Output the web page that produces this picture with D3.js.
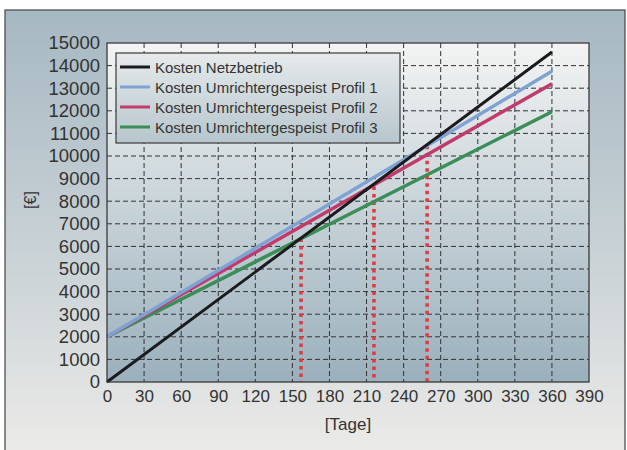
<!DOCTYPE html>
<html><head><meta charset="utf-8">
<script src="https://cdn.jsdelivr.net/npm/d3@7"></script>
<style>body{margin:0;background:#fff}svg{display:block}text{font-family:"Liberation Sans",Arial,sans-serif}</style>
</head><body>
<script>
const days = [0, 360];
const netz = [0, 14600];
const profil1 = [2000, 13750];
const profil2 = [2000, 13200];
const profil3 = [2000, 11960];
const seriesNames = ["Kosten Netzbetrieb","Kosten Umrichtergespeist Profil 1","Kosten Umrichtergespeist Profil 2","Kosten Umrichtergespeist Profil 3"];
const seriesColors = ["#1b1b1d","#7fa2d4","#c23a6b","#3b8e57"];
const breakDays = [157, 216, 259];
const breakTops = [6350, 8650, 10450];
const xTicks = d3.range(0, 391, 30);
const yTicks = d3.range(0, 15001, 1000);

const W = 627, H = 450;
const svg = d3.select("body").append("svg").attr("width", W).attr("height", H);
const defs = svg.append("defs");
const g1 = defs.append("linearGradient").attr("id","outer").attr("x1",0).attr("y1",0).attr("x2",0).attr("y2",1);
g1.append("stop").attr("offset","0%").attr("stop-color","#a6b8c2");
g1.append("stop").attr("offset","55%").attr("stop-color","#c9d2d6");
g1.append("stop").attr("offset","100%").attr("stop-color","#ecebe8");
const g2 = defs.append("linearGradient").attr("id","plot").attr("x1",0).attr("y1",0).attr("x2",0).attr("y2",1);
g2.append("stop").attr("offset","0%").attr("stop-color","#f3f4f3");
g2.append("stop").attr("offset","100%").attr("stop-color","#9ab0bc");
const g3 = defs.append("linearGradient").attr("id","leg").attr("x1",0).attr("y1",0).attr("x2",0).attr("y2",1);
g3.append("stop").attr("offset","0%").attr("stop-color","#e6eaeb");
g3.append("stop").attr("offset","100%").attr("stop-color","#b7c6cd");

svg.append("rect").attr("x",5).attr("y",10).attr("width",620).attr("height",445)
  .attr("fill","url(#outer)").attr("stroke","#444").attr("stroke-width",1.2);

const L = 107, R = 589, T = 43, B = 382;
const x = d3.scaleLinear().domain([0,390]).range([L,R]);
const y = d3.scaleLinear().domain([0,15000]).range([B,T]);

svg.append("rect").attr("x",L).attr("y",T).attr("width",R-L).attr("height",B-T).attr("fill","url(#plot)");

// grid
svg.append("g").selectAll("line").data(xTicks.slice(1,-1)).join("line")
  .attr("x1",d=>x(d)).attr("x2",d=>x(d)).attr("y1",T).attr("y2",B)
  .attr("stroke","#333").attr("stroke-width",1).attr("stroke-dasharray","5,3");
svg.append("g").selectAll("line").data(yTicks.slice(1,-1)).join("line")
  .attr("y1",d=>y(d)).attr("y2",d=>y(d)).attr("x1",L).attr("x2",R)
  .attr("stroke","#333").attr("stroke-width",1).attr("stroke-dasharray","5,3");

// red dotted break-even lines
svg.append("g").selectAll("line").data(breakDays).join("line")
  .attr("x1",d=>x(d)).attr("x2",d=>x(d)).attr("y1",(d,i)=>y(breakTops[i])).attr("y2",B)
  .attr("stroke","#e0393f").attr("stroke-width",3.5).attr("stroke-dasharray","3.5,4");

// series
const allSeries = [netz, profil1, profil2, profil3];
const line = d3.line().x((d,i)=>x(days[i])).y(d=>y(d));
[3,2,1,0].forEach(k=>{
  svg.append("path").datum(allSeries[k]).attr("d",line).attr("fill","none")
    .attr("stroke",seriesColors[k]).attr("stroke-width",k===0?3:3.5).attr("stroke-linecap","butt");
});

// border
svg.append("rect").attr("x",L).attr("y",T).attr("width",R-L).attr("height",B-T)
  .attr("fill","none").attr("stroke","#3a3a3a").attr("stroke-width",1.3);

// axes
const xAxis = d3.axisBottom(x).tickValues(xTicks).tickFormat(d3.format("d")).tickSize(0).tickPadding(8);
const ax = svg.append("g").attr("transform",`translate(0,${B})`).call(xAxis);
ax.select(".domain").remove();
ax.selectAll("text").attr("font-size",17).attr("fill","#333").attr("font-family","Liberation Sans, Arial, sans-serif");
const yAxis = d3.axisLeft(y).tickValues(yTicks).tickFormat(d3.format("d")).tickSize(0).tickPadding(7);
const ay = svg.append("g").attr("transform",`translate(${L},0)`).call(yAxis);
ay.select(".domain").remove();
ay.selectAll("text").attr("font-size",18.5).attr("fill","#333").attr("font-family","Liberation Sans, Arial, sans-serif");

svg.append("text").attr("x",(L+R)/2).attr("y",430).attr("text-anchor","middle")
  .attr("font-size",17).attr("fill","#333").text("[Tage]");
svg.append("text").attr("transform","translate(36,200) rotate(-90)").attr("text-anchor","middle")
  .attr("font-size",16).attr("fill","#333").text("[€]");

// legend
const lg = svg.append("g");
lg.append("rect").attr("x",116).attr("y",53).attr("width",284).attr("height",90)
  .attr("fill","url(#leg)").attr("stroke","#3a3a3a").attr("stroke-width",1.2);
seriesNames.forEach((n,i)=>{
  const yy = 67 + i*20;
  lg.append("line").attr("x1",120).attr("x2",150).attr("y1",yy).attr("y2",yy)
    .attr("stroke",seriesColors[i]).attr("stroke-width",3);
  lg.append("text").attr("x",155).attr("y",yy+5.5).attr("font-size",15).attr("fill","#333").text(n);
});
</script>
</body></html>
